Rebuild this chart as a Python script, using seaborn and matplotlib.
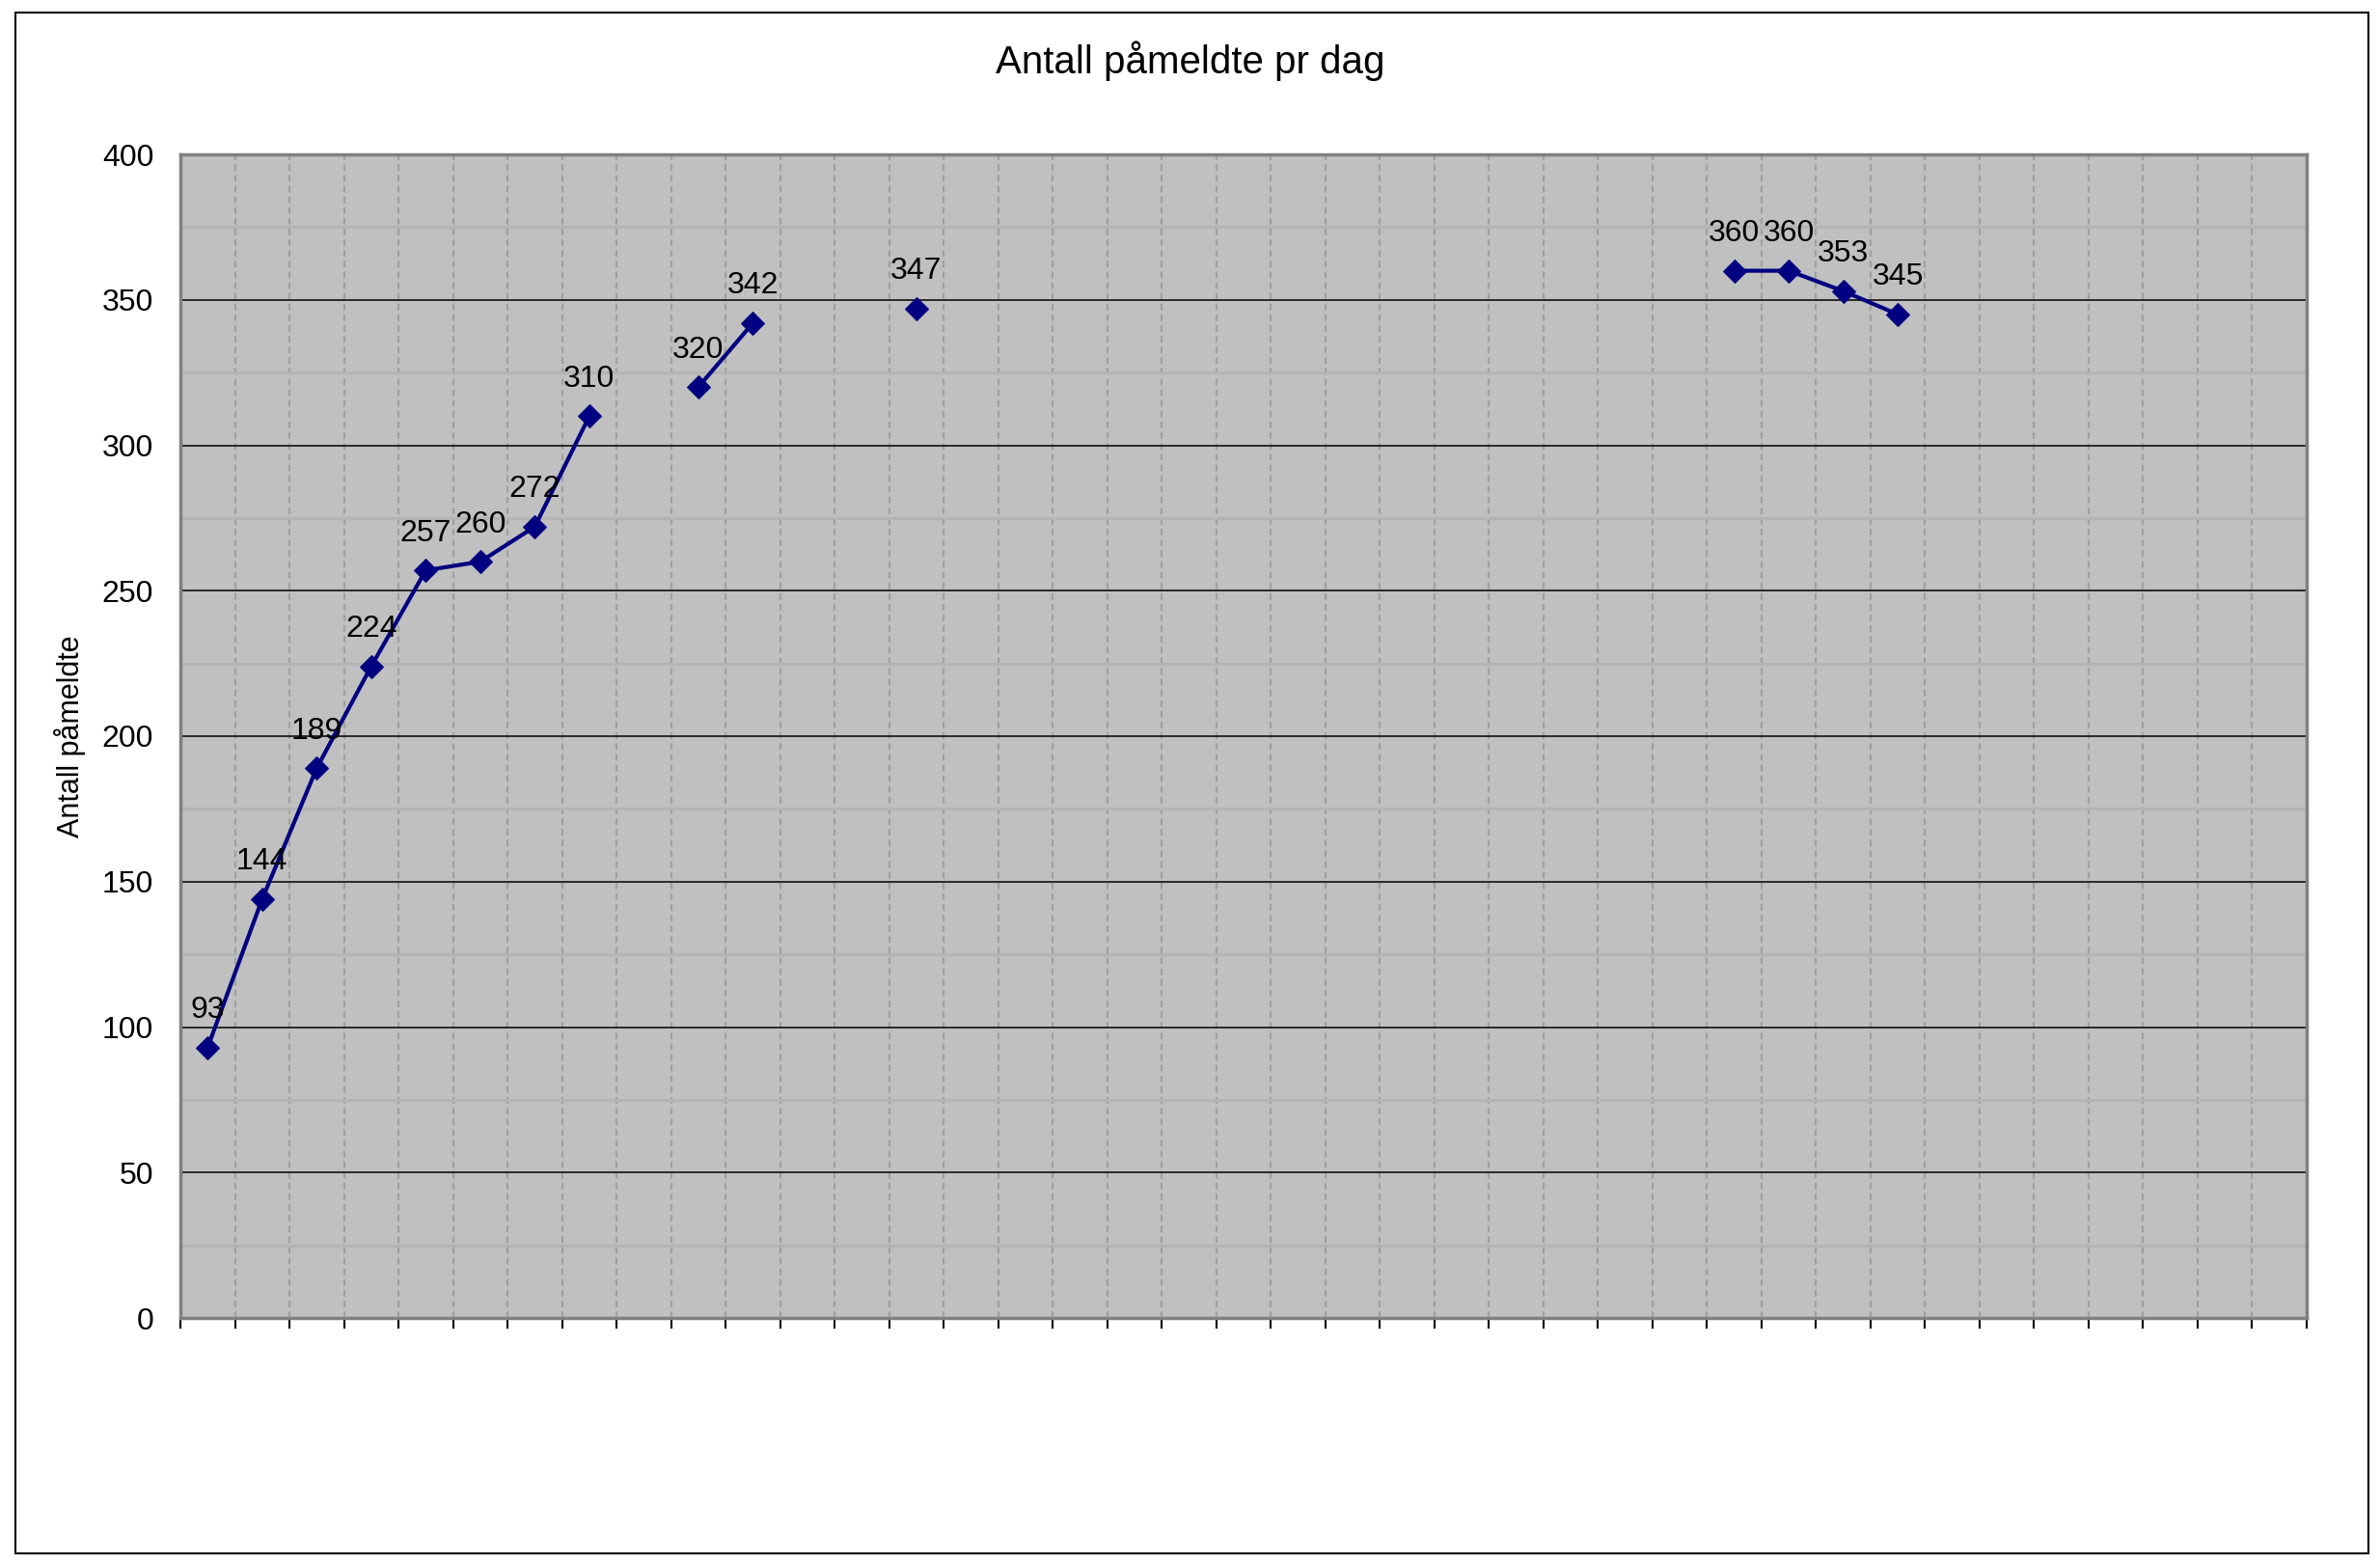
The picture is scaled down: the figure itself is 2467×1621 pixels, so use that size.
import pandas as pd
import numpy as np
import matplotlib
matplotlib.use('Agg')
import matplotlib.pyplot as plt
import seaborn as sns
from matplotlib.patches import Rectangle
from matplotlib.ticker import MultipleLocator

# Data: one value per day, None where nothing was registered
dager = list(range(1, 40))
antall = [93, 144, 189, 224, 257, 260, 272, 310, None, 320, 342, None, None, 347,
          None, None, None, None, None, None, None, None, None, None, None, None,
          None, None, 360, 360, 353, 345, None, None, None, None, None, None, None]

tittel = 'Antall påmeldte pr dag'
y_tittel = 'Antall påmeldte'

df = pd.DataFrame({'dag': dager, 'antall': antall})
df['antall'] = pd.to_numeric(df['antall'])
# segment id so the line breaks at missing days (like Excel gaps)
df['seg'] = df['antall'].isna().cumsum()
df_plot = df.dropna()

sns.set_style('white')
plt.rcParams['font.family'] = ['Liberation Sans', 'DejaVu Sans']
plt.rcParams['text.color'] = 'black'
plt.rcParams['axes.labelcolor'] = 'black'
plt.rcParams['ytick.color'] = 'black'
plt.rcParams['xtick.color'] = 'black'

fig = plt.figure(figsize=(24.67, 16.21), dpi=100)
ax = fig.add_axes([187 / 2467, 1 - 1366 / 1621, (2391 - 187) / 2467, (1366 - 160) / 1621])
ax.set_facecolor('#C0C0C0')

sns.lineplot(data=df_plot, x='dag', y='antall', units='seg', estimator=None,
             color='#000080', linewidth=3, marker='D', markersize=12,
             markeredgecolor='#000080', ax=ax, zorder=5)

for d, v in zip(df_plot['dag'], df_plot['antall']):
    ax.annotate(f'{int(v)}', (d, v), xytext=(0, 22), textcoords='offset points',
                ha='center', va='baseline', fontsize=23, color='black', zorder=6)

ax.set_xlim(0.5, len(dager) + 0.5)
ax.set_ylim(0, 400)
ax.set_xticks(np.arange(0.5, len(dager) + 1, 1))
ax.set_xticklabels([])
ax.yaxis.set_major_locator(MultipleLocator(50))
ax.yaxis.set_minor_locator(MultipleLocator(25))

# gridlines, Excel style
ax.grid(False)
for x in np.arange(1.5, len(dager) + 0.5, 1):
    ax.axvline(x, color='#A0A0A0', linestyle=(0, (3, 2)), linewidth=1.6, zorder=1)
for y in range(25, 400, 50):
    ax.axhline(y, color='#B4B4B4', linewidth=2.2, zorder=1)
for y in range(50, 400, 50):
    ax.axhline(y, color='black', linewidth=1.1, zorder=2)

for side, sp in ax.spines.items():
    sp.set_visible(True)
    sp.set_color('#808080')
    sp.set_linewidth(2.5)

ax.tick_params(axis='y', which='both', length=0, pad=20, labelsize=23)
ax.tick_params(axis='x', length=8, width=1.5, color='black', direction='out', bottom=True)
ax.set_xlabel('')
ax.set_ylabel(y_tittel, fontsize=22, labelpad=12)

fig.text(0.5, 1 - 63 / 1621, tittel, ha='center', va='center', fontsize=29)

# outer chart border
fig.patches.append(Rectangle((16 / 2467, 1 - 1610 / 1621), (2455 - 16) / 2467, (1610 - 13) / 1621,
                             transform=fig.transFigure, fill=False, edgecolor='black', linewidth=1.5))

fig.savefig('out.png', dpi=100, facecolor='white')
plt.close(fig)
